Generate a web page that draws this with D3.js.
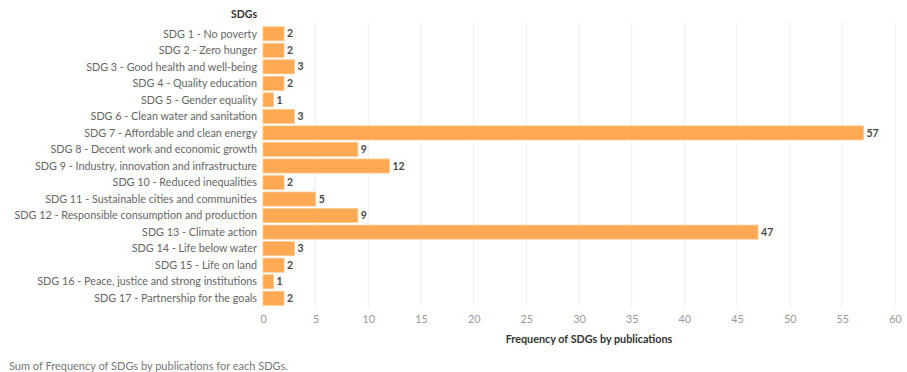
<!DOCTYPE html>
<html><head><meta charset="utf-8">
<script src="https://cdn.jsdelivr.net/npm/d3@7"></script>
<style>body{margin:0;background:#fff;} svg{display:block;font-family:Lato,"Open Sans",sans-serif;}</style>
</head><body><svg id="c" width="907" height="372"></svg>
<script>
const categories = ["SDG 1 - No poverty","SDG 2 - Zero hunger","SDG 3 - Good health and well-being","SDG 4 - Quality education","SDG 5 - Gender equality","SDG 6 - Clean water and sanitation","SDG 7 - Affordable and clean energy","SDG 8 - Decent work and economic growth","SDG 9 - Industry, innovation and infrastructure","SDG 10 - Reduced inequalities","SDG 11 - Sustainable cities and communities","SDG 12 - Responsible consumption and production","SDG 13 - Climate action","SDG 14 - Life below water","SDG 15 - Life on land","SDG 16 - Peace, justice and strong institutions","SDG 17 - Partnership for the goals"];
const values = [2,2,3,2,1,3,57,9,12,2,5,9,47,3,2,1,2];
const xTicks = [0,5,10,15,20,25,30,35,40,45,50,55,60];

const svg = d3.select("#c");
const x = d3.scaleLinear().domain([0,60]).range([263,895]);
const y = d3.scaleBand().domain(categories).range([25.5,306.5]).paddingInner(0.15).paddingOuter(0.075);

svg.append("g").selectAll("line").data(xTicks.slice(1)).join("line")
  .attr("x1",d=>x(d)).attr("x2",d=>x(d)).attr("y1",22).attr("y2",308)
  .attr("stroke","#f0f0f0").attr("stroke-width",1);

svg.append("g").selectAll("rect").data(values).join("rect")
  .attr("x",x(0)).attr("y",(d,i)=>y(categories[i]))
  .attr("width",d=>x(d)-x(0)).attr("height",y.bandwidth())
  .attr("fill","#ffaa52").attr("stroke","#ffc98f").attr("stroke-width",0.8);

svg.append("g").selectAll("text").data(values).join("text")
  .attr("x",d=>x(d)+3).attr("y",(d,i)=>y(categories[i])+y.bandwidth()/2)
  .attr("dy","0.35em").attr("font-size",10.5).attr("font-weight",700).attr("fill","#4a4a4a")
  .text(d=>d);

svg.append("g").selectAll("text").data(categories).join("text")
  .attr("x",257).attr("y",d=>y(d)+y.bandwidth()/2).attr("dy","0.35em")
  .attr("text-anchor","end").attr("font-size",10.8).attr("fill","#666").text(d=>d);

svg.append("text").attr("x",257).attr("y",14).attr("dy","0.35em").attr("text-anchor","end")
  .attr("font-size",10.5).attr("font-weight",700).attr("fill","#333").text("SDGs");

const ax = svg.append("g").attr("transform","translate(0,310)")
  .call(d3.axisBottom(x).tickValues(xTicks).tickSize(0).tickPadding(5));
ax.select(".domain").remove();
ax.selectAll("text").attr("font-size",10.8).attr("fill","#999").attr("font-family","Lato");

svg.append("text").attr("x",589).attr("y",339).attr("dy","0.35em").attr("text-anchor","middle")
  .attr("font-size",10.8).attr("font-weight",700).attr("fill","#333").text("Frequency of SDGs by publications");

svg.append("text").attr("x",9).attr("y",366).attr("dy","0.35em")
  .attr("font-size",11).attr("fill","#777").text("Sum of Frequency of SDGs by publications for each SDGs.");
</script></body></html>
